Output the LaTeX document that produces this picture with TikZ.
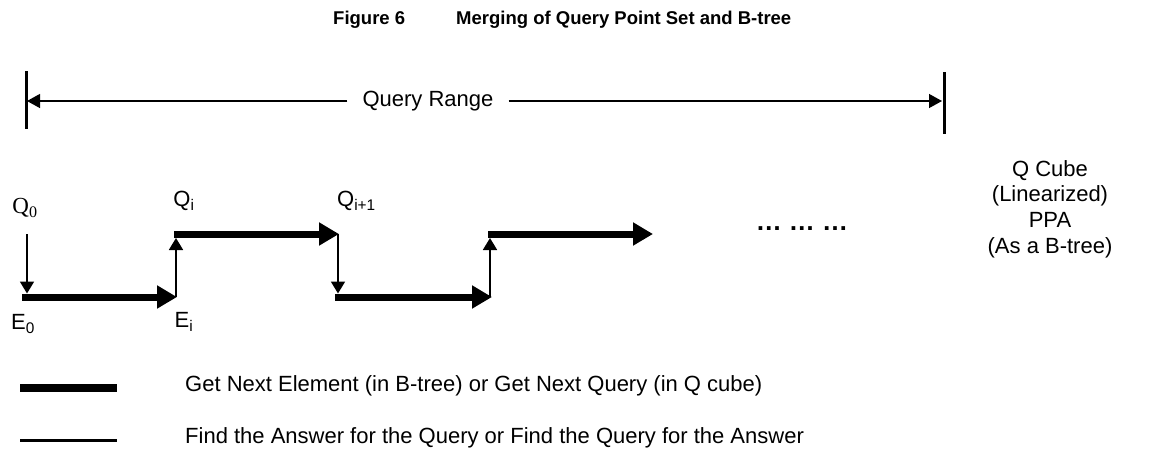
\documentclass[tikz,border=0pt]{standalone}
\usepackage{fontspec}
\setmainfont{Liberation Sans}
\newfontfamily\serifQ{Liberation Serif}
\usetikzlibrary{arrows.meta}
\begin{document}
\begin{tikzpicture}[x=1pt,y=-1pt,
  thickarr/.style={line width=7pt,-{Triangle[length=20pt,width=22pt]}},
  thinarr/.style={line width=1.8pt,-{Triangle[length=12pt,width=14pt]}},
  rangearr/.style={line width=1.3pt,-{Triangle[length=13pt,width=14pt]}},
  bar/.style={line width=3pt},
  lbl/.style={inner sep=0pt,font=\fontsize{22}{24}\selectfont},
  ttl/.style={inner sep=0pt,font=\fontsize{18.5}{20}\selectfont\bfseries}]
\useasboundingbox (0,0) rectangle (1171,456);
% title
\node[ttl,anchor=west] (t1) at (333,20) {Figure 6};
\node[ttl,anchor=west] (t2) at (456,20) {Merging of Query Point Set and B-tree};
% query range
\coordinate (lbt) at (26,71); \coordinate (lbb) at (26,129);
\coordinate (rbt) at (944,72); \coordinate (rbb) at (944,134);
\draw[bar] (lbt) -- (lbb);
\draw[bar] (rbt) -- (rbb);
\node[lbl] (qr) at (428,101) {Query Range};
\coordinate (ll) at (27,101); \coordinate (rr) at (942,101);
\draw[rangearr] (qr.west) ++(-15,0) coordinate (qrl) -- (ll);
\draw[rangearr] (qr.east) ++(15,0) coordinate (qrr) -- (rr);
% labels
\node[inner sep=0pt,font=\serifQ\fontsize{23}{24}\selectfont] (q0) at (25,208) {Q\textsubscript{0}};
\node[lbl] (qi) at (184,201) {Q\textsubscript{i}};
\node[lbl,anchor=west] (qi1) at (337,201) {Q\textsubscript{i+1}};
\node[lbl] (e0) at (23,324) {E\textsubscript{0}};
\node[lbl] (ei) at (184,322) {E\textsubscript{i}};
% path coordinates
\coordinate (a0) at (27,234);
\coordinate (a0b) at (27,293.5);
\coordinate (h1s) at (22,297); \coordinate (h1e) at (177,297);
\coordinate (u1s) at (176,297); \coordinate (u1e) at (176,238);
\coordinate (h2s) at (174,234); \coordinate (h2e) at (339,234);
\coordinate (d2s) at (338,234); \coordinate (d2e) at (338,293.5);
\coordinate (h3s) at (335,297); \coordinate (h3e) at (492,297);
\coordinate (u3s) at (490,297); \coordinate (u3e) at (490,238);
\coordinate (h4s) at (488,234); \coordinate (h4e) at (653,234);
\draw[thinarr] (a0) -- (a0b);
\draw[thickarr] (h1s) -- (h1e);
\draw[thinarr] (u1s) -- (u1e);
\draw[thickarr] (h2s) -- (h2e);
\draw[thinarr] (d2s) -- (d2e);
\draw[thickarr] (h3s) -- (h3e);
\draw[thinarr] (u3s) -- (u3e);
\draw[thickarr] (h4s) -- (h4e);
\node[lbl,font=\fontsize{26}{26}\selectfont\bfseries] (dots) at (802,229) {\ldots\ \ldots\ \ldots};
\node[lbl,align=center,font=\fontsize{22}{25.7}\selectfont] (qc) at (1050,209) {Q Cube\\(Linearized)\\PPA\\(As a B-tree)};
% legend
\coordinate (l1a) at (20,388); \coordinate (l1b) at (117,388);
\coordinate (l2a) at (20,440); \coordinate (l2b) at (117,440);
\draw[line width=8pt] (l1a) -- (l1b);
\draw[line width=3pt] (l2a) -- (l2b);
\node[lbl,anchor=west] (g1) at (185,386) {Get Next Element (in B-tree) or Get Next Query (in Q cube)};
\node[lbl,anchor=west] (g2) at (185,438) {Find the Answer for the Query or Find the Query for the Answer};
\end{tikzpicture}
\end{document}
